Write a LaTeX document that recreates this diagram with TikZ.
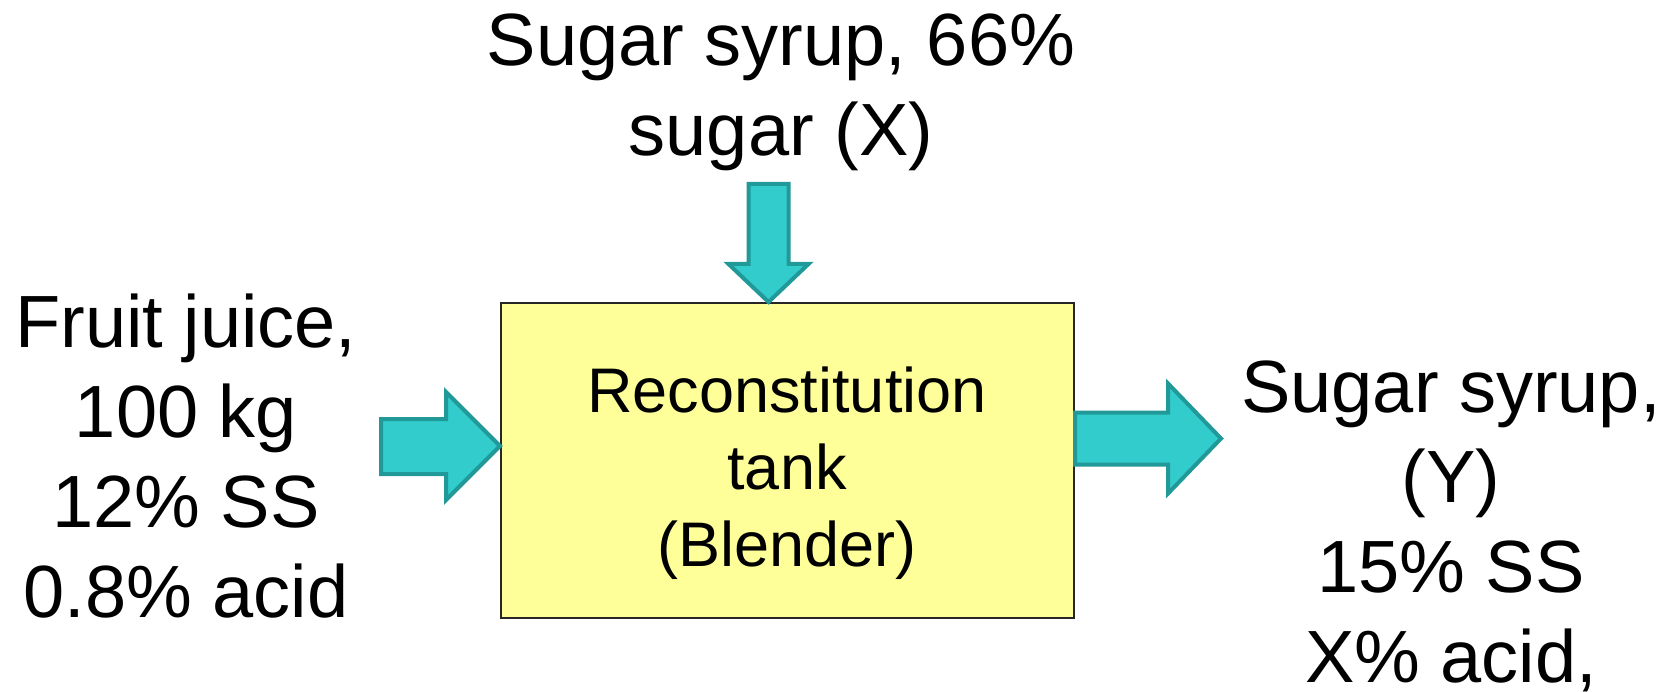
\documentclass[tikz,border=0pt]{standalone}
\usepackage{fontspec}
\setmainfont{Liberation Sans}
\usepackage{xcolor}
\usetikzlibrary{positioning}
\definecolor{flowfill}{HTML}{33CCCC}
\definecolor{flowline}{HTML}{229999}
\definecolor{tankfill}{HTML}{FFFF99}

\begin{document}
\begin{tikzpicture}
[
x=1pt, y=-1pt,
tank-a/.style={rectangle, draw=black!85, fill=tankfill, line width=2pt, minimum width=573pt, minimum height=315pt, inner sep=0pt},
flow-a/.style={draw=flowline, fill=flowfill, line width=4pt, line join=miter},
text-a/.style={black, inner sep=0pt, outer sep=0pt, font=\fontsize{74}{90}\selectfont, text height=66pt, text depth=24pt},
text-b/.style={black, inner sep=0pt, outer sep=0pt, font=\fontsize{63}{77}\selectfont, text height=56pt, text depth=21pt}
]
\useasboundingbox (0,0) rectangle (1677,692);
\fill[white] (0,0) rectangle (1677,692);
% tank
\node (tank)      [tank-a] at (787,460.5) {};
\node (tank-1)    [text-b, anchor=base] at (787,412.5) {Reconstitution};
\node (tank-2)    [text-b, below = 0pt of tank-1] {tank};
\node (tank-3)    [text-b, below = 0pt of tank-2] {(Blender)};
% syrup in
\node (syrup-1)   [text-a, anchor=base] at (781,66) {Sugar syrup, 66\%};
\node (syrup-2)   [text-a, below = 0pt of syrup-1] {sugar (X)};
% juice in
\node (juice-1)   [text-a, anchor=base] at (186,347) {Fruit juice,};
\node (juice-2)   [text-a, below = 0pt of juice-1] {100 kg};
\node (juice-3)   [text-a, below = 0pt of juice-2] {12\% SS};
\node (juice-4)   [text-a, below = 0pt of juice-3] {0.8\% acid};
% product out
\node (out-1)     [text-a, anchor=base] at (1451,412.5) {Sugar syrup,};
\node (out-2)     [text-a, below = 0pt of out-1] {(Y)};
\node (out-3)     [text-a, below = 0pt of out-2] {15\% SS};
\node (out-4)     [text-a, below = 0pt of out-3] {X\% acid,};
% flows
\coordinate (syrup-tip) at (768.5,302);
\coordinate (juice-tip) at (500,446);
\coordinate (out-tail)  at (1075,438.5);
\draw[flow-a] (syrup-tip) -- ++(40,-38) -- ++(-20,0) -- ++(0,-80) -- ++(-40,0) -- ++(0,80) -- ++(-20,0) -- cycle;
\draw[flow-a] (juice-tip) -- ++(-54,54) -- ++(0,-26) -- ++(-65,0) -- ++(0,-55) -- ++(65,0) -- ++(0,-27) -- cycle;
\draw[flow-a] (out-tail) ++(0,-26) -- ++(93,0) -- ++(0,-29) -- ++(53,55) -- ++(-53,55) -- ++(0,-29) -- ++(-93,0) -- cycle;
\end{tikzpicture}
\end{document}
